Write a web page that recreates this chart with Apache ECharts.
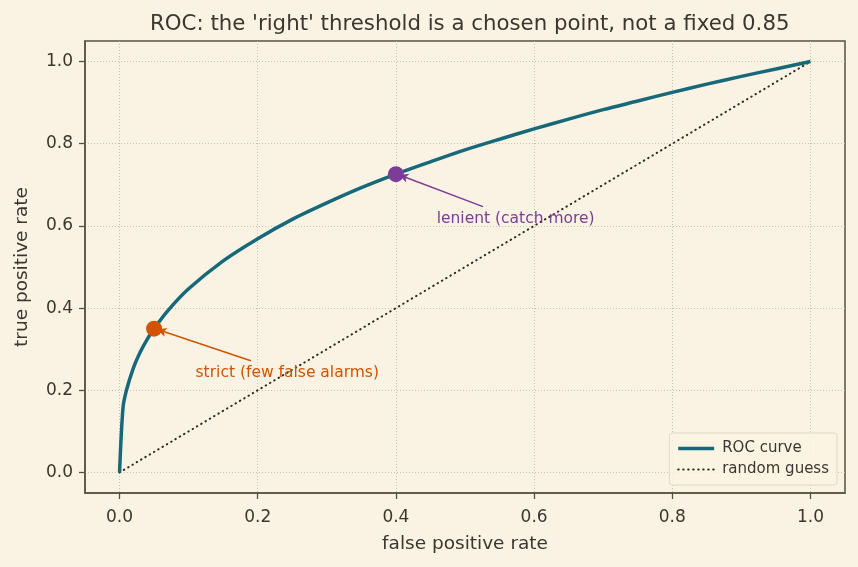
<!DOCTYPE html>
<html>
<head>
<meta charset="utf-8">
<script src="https://cdn.jsdelivr.net/npm/echarts@6/dist/echarts.min.js"></script>
<style>
  html, body { margin: 0; padding: 0; background: #faf3e3; }
  #main { width: 858px; height: 567px; }
</style>
</head>
<body>
<div id="main"></div>
<script>
// ROC curve
var fpr = [0, 0.005, 0.01, 0.02, 0.03, 0.04, 0.05, 0.07, 0.1, 0.15, 0.2, 0.25, 0.3, 0.35, 0.4,
    0.45, 0.5, 0.55, 0.6, 0.65, 0.7, 0.75, 0.8, 0.85, 0.9, 0.95, 1.0]
var tpr = [0, 0.157, 0.200, 0.254, 0.293, 0.324, 0.350, 0.394, 0.447, 0.515, 0.569, 0.616, 0.656, 0.693, 0.726,
    0.756, 0.785, 0.811, 0.836, 0.860, 0.883, 0.904, 0.925, 0.945, 0.964, 0.982, 1.0]
var guessX = [0, 1]
var guessY = [0, 1]
var tickValues = [0, 0.2, 0.4, 0.6, 0.8, 1.0]

// the two marked thresholds
var strictPt = [0.05, 0.35]
var lenientPt = [0.4, 0.726]
var strictText = 'strict (few false alarms)'
var lenientText = 'lenient (catch more)'
var strictTextPos = [0.11, 0.241]
var lenientTextPos = [0.459, 0.618]
var strictArrowFrom = [0.19, 0.272]
var lenientArrowFrom = [0.526, 0.647]

var ink = '#3b3630'
var teal = '#17697a'
var orange = '#d35400'
var purple = '#7d3c98'
var dotted = [0.5, 4.5]

function pairs(xs, ys) {
    var rs = []
    for (var i = 0; i < xs.length; i++) rs.push([xs[i], ys[i]])
    return rs
}

function axis(name, gap, margin) {
    return {
        type: 'value',
        min: -0.05,
        max: 1.05,
        name: name,
        nameLocation: 'middle',
        nameGap: gap,
        nameTextStyle: { color: ink, fontSize: 18.5, fontFamily: 'DejaVu Sans' },
        axisLine: { show: true, onZero: false, lineStyle: { color: '#5a5042', width: 1.5 } },
        axisTick: { show: true, length: 6, customValues: tickValues, lineStyle: { color: '#5a5042', width: 1.3 } },
        axisLabel: {
            customValues: tickValues, color: ink, fontSize: 17, fontFamily: 'DejaVu Sans', margin: margin,
            formatter: function (v) { return v.toFixed(1) }
        },
        splitLine: { show: true, lineStyle: { color: '#bdb5a5', type: [1, 2], width: 0.8 } }
    }
}

var myChart = echarts.init(document.getElementById('main'))
myChart.setOption({
    backgroundColor: '#faf3e3',
    animation: false,
    title: {
        text: "ROC: the 'right' threshold is a chosen point, not a fixed 0.85",
        left: 145,
        top: 9,
        textStyle: { color: ink, fontSize: 21.3, fontWeight: 'normal', fontFamily: 'DejaVu Sans' }
    },
    grid: { left: 85, right: 13, top: 41, bottom: 74, show: true, borderColor: '#5a5042', borderWidth: 1.5, backgroundColor: 'transparent' },
    legend: {
        orient: 'vertical',
        right: 21,
        bottom: 82,
        itemWidth: 36,
        itemHeight: 12,
        itemGap: 6,
        padding: [8, 8, 8, 7],
        backgroundColor: 'rgba(250,243,227,0.85)',
        borderColor: '#e0d9c8',
        borderWidth: 1,
        borderRadius: 3,
        itemStyle: { opacity: 0 },
        textStyle: { color: ink, fontSize: 15, fontFamily: 'DejaVu Sans', padding: [0, 0, 0, 3] },
        data: [
            { name: 'ROC curve', lineStyle: { color: teal, width: 3.5 } },
            { name: 'random guess', lineStyle: { color: '#2f2a25', width: 2, type: dotted, cap: 'round' } }
        ]
    },
    xAxis: axis('false positive rate', 42, 16),
    yAxis: axis('true positive rate', 53, 12),
    series: [{
        name: 'random guess',
        type: 'line',
        symbol: 'none',
        data: pairs(guessX, guessY),
        lineStyle: { color: '#2f2a25', width: 2, type: dotted, cap: 'round' },
        itemStyle: { color: '#2f2a25' },
        z: 2
    }, {
        name: 'ROC curve',
        type: 'line',
        symbol: 'none',
        smooth: 0.3,
        data: pairs(fpr, tpr),
        lineStyle: { color: teal, width: 3.5 },
        itemStyle: { color: teal },
        z: 3
    }, {
        name: 'points',
        type: 'scatter',
        symbolSize: 16,
        itemStyle: { opacity: 1 },
        data: [
            { value: strictPt, itemStyle: { color: orange, opacity: 1 } },
            { value: lenientPt, itemStyle: { color: purple, opacity: 1 } }
        ],
        z: 5,
        markLine: {
            silent: true,
            symbol: ['none', 'arrow'],
            symbolSize: [7, 9],
            label: { show: false },
            lineStyle: { opacity: 1 },
            data: [
                [{ coord: strictArrowFrom, lineStyle: { color: orange, width: 1.5, type: 'solid', opacity: 1 } }, { coord: [strictPt[0] + 0.005, strictPt[1] - 0.002] }],
                [{ coord: lenientArrowFrom, lineStyle: { color: purple, width: 1.5, type: 'solid', opacity: 1 } }, { coord: [lenientPt[0] + 0.005, lenientPt[1] - 0.002] }]
            ]
        }
    }, {
        name: 'notes',
        type: 'scatter',
        symbolSize: 0,
        silent: true,
        itemStyle: { opacity: 1 },
        data: [
            { value: strictTextPos, label: { formatter: strictText, color: orange } },
            { value: lenientTextPos, label: { formatter: lenientText, color: purple } }
        ],
        label: { show: true, position: 'right', distance: 0, fontSize: 15.5, fontFamily: 'DejaVu Sans' },
        z: 6
    }]
})
</script>
</body>
</html>
